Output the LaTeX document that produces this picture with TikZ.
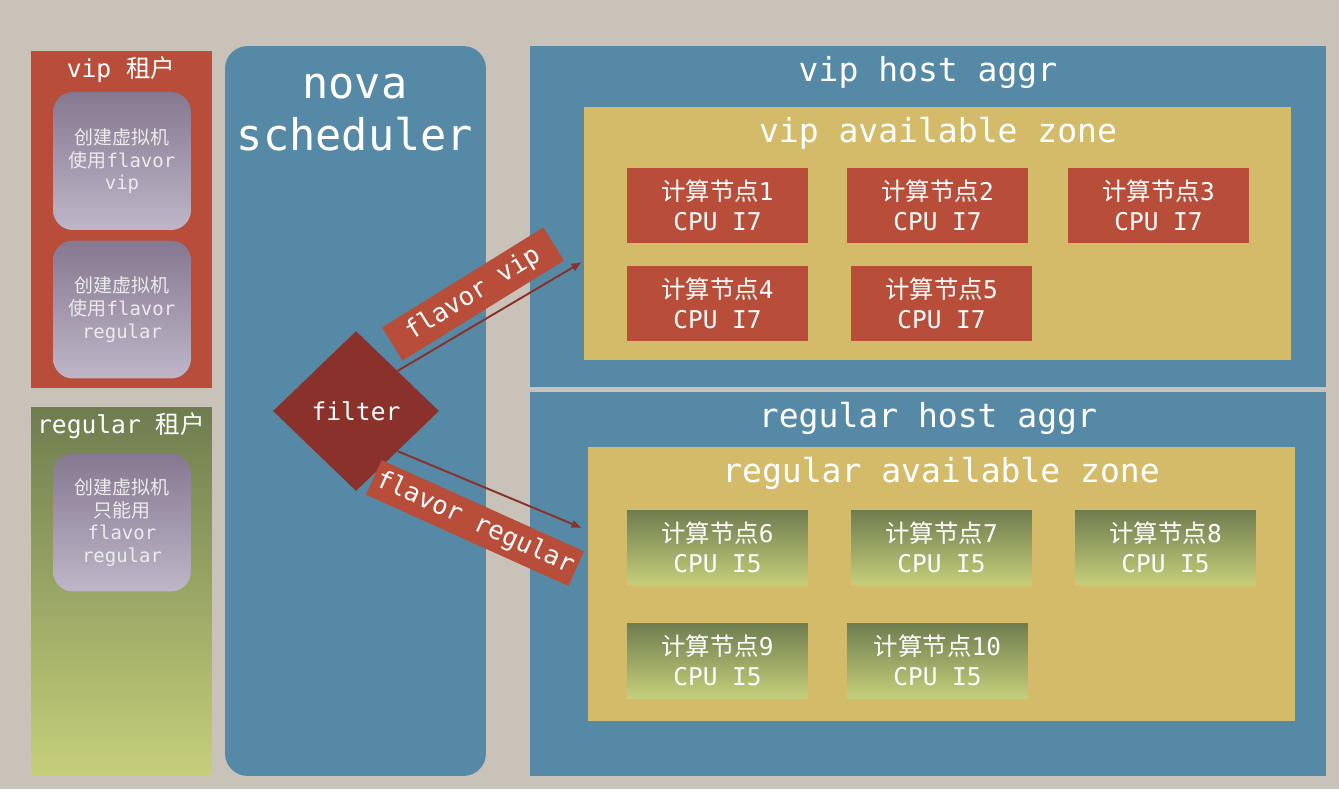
\documentclass[tikz,border=0pt]{standalone}
\usepackage{fontspec}
\setmainfont{DejaVu Sans Mono}
\newfontfamily\cjk{Noto Sans CJK SC}
\usetikzlibrary{shapes.geometric,arrows.meta}
\definecolor{bgcol}{RGB}{201,194,185}
\definecolor{redcol}{RGB}{184,78,58}
\definecolor{bluecol}{RGB}{85,137,166}
\definecolor{yellowcol}{RGB}{212,187,106}
\definecolor{darkred}{RGB}{138,49,43}
\definecolor{greentop}{RGB}{110,125,79}
\definecolor{greenbot}{RGB}{197,207,122}
\definecolor{purptop}{RGB}{133,120,144}
\definecolor{purpbot}{RGB}{191,182,200}
\begin{document}
\begin{tikzpicture}[x=0.02cm,y=-0.02cm,
  every node/.style={text=white,inner sep=0pt,align=center},
  title/.style={font=\fontsize{14}{17}\selectfont},
  bigtitle/.style={font=\fontsize{18.8}{22}\selectfont},
  request/.style={rounded corners=0.4cm,top color=purptop,bottom color=purpbot,
    minimum width=2.76cm,minimum height=2.76cm,text=white!92!black,
    font=\fontsize{10.8}{12.9}\selectfont},
  i7node/.style={fill=redcol,minimum width=3.62cm,minimum height=1.5cm,
    font=\fontsize{13.9}{17}\selectfont},
  i5node/.style={top color=greentop,bottom color=greenbot,minimum width=3.62cm,
    minimum height=1.5cm,font=\fontsize{13.9}{17}\selectfont},
  band/.style={fill=redcol,font=\fontsize{14.5}{17}\selectfont}]
\fill[bgcol] (0,0) rectangle (1339,789);
\useasboundingbox (0,0) rectangle (1339,789);

% tenants
\node[fill=redcol,minimum width=3.62cm,minimum height=6.74cm] (vipten) at (121.5,219.5) {};
\node[title] (viptentitle) at (121,70) {vip {\cjk 租户}};
\node[request] (vipreq) at (122,161) {{\cjk 创建虚拟机}\\{\cjk 使用}flavor\\vip};
\node[request] (regreq) at (122,309.5) {{\cjk 创建虚拟机}\\{\cjk 使用}flavor\\regular};

\node[top color=greentop,bottom color=greenbot,minimum width=3.62cm,minimum height=7.36cm] (regten) at (121.5,591) {};
\node[title] (regtentitle) at (121,426) {regular {\cjk 租户}};
\node[request] (onlyreq) at (122,522.5) {{\cjk 创建虚拟机}\\{\cjk 只能用}\\flavor\\regular};

% scheduler
\node[fill=bluecol,rounded corners=0.45cm,minimum width=5.22cm,minimum height=14.6cm] (nova) at (355.5,411) {};
\node[font=\fontsize{24.8}{29.6}\selectfont] (novatitle) at (355,113) {nova\\scheduler};
\node[diamond,fill=darkred,minimum width=3.32cm,minimum height=3.2cm,title] (filter) at (356,411) {filter};

% host aggregates
\node[fill=bluecol,minimum width=15.92cm,minimum height=6.82cm] (vipaggr) at (928,216.5) {};
\node[bigtitle] (vipaggrtitle) at (928,72) {vip host aggr};
\node[fill=yellowcol,minimum width=14.14cm,minimum height=5.06cm] (vipzone) at (937.5,233.5) {};
\node[bigtitle] (vipzonetitle) at (938,133) {vip available zone};

\node[fill=bluecol,minimum width=15.92cm,minimum height=7.68cm] (regaggr) at (928,584) {};
\node[bigtitle] (regaggrtitle) at (928,418) {regular host aggr};
\node[fill=yellowcol,minimum width=14.14cm,minimum height=5.48cm] (regzone) at (941.5,584) {};
\node[bigtitle] (regzonetitle) at (941,473) {regular available zone};

% compute nodes
\foreach \n/\x/\y in {1/717.5/205.5, 2/937.5/205.5, 3/1158.5/205.5, 4/717.5/303, 5/941.5/303}
  \node[i7node] (c\n) at (\x,\y) {{\cjk 计算节点}\n\\CPU I7};
\foreach \n/\x/\y in {6/717.5/547.5, 7/941.5/547.5, 8/1165.5/547.5, 9/717.5/660.5, 10/937.5/660.5}
  \node[i5node] (c\n) at (\x,\y) {{\cjk 计算节点}\n\\CPU I5};

% flavors
\node[band,rotate=31.8,minimum width=3.8cm,minimum height=0.78cm] (vipband) at (473,294) {flavor vip};
\node[band,rotate=-24.3,minimum width=4.44cm,minimum height=0.76cm] (regband) at (475,523) {flavor regular};
\coordinate (vipend) at (582,262);
\coordinate (regend) at (582,528);
\draw[darkred,line width=1.1pt,-{Latex[length=6pt,width=5pt]}] (filter.north east) -- (vipend);
\draw[darkred,line width=1.1pt,-{Latex[length=6pt,width=5pt]}] (filter.south east) -- (regend);

\end{tikzpicture}
\end{document}
